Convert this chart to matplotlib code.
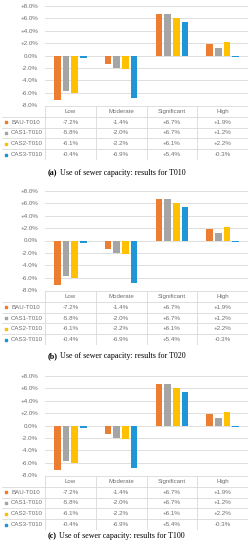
import numpy as np
import matplotlib.pyplot as plt
from matplotlib import font_manager

categories = ["Low", "Moderate", "Significant", "High"]
series = ["BAU-T010", "CAS1-T010", "CAS2-T010", "CAS3-T010"]
bau = [-7.2, -1.4, 6.7, 1.9]
cas1 = [-5.8, -2.0, 6.7, 1.2]
cas2 = [-6.1, -2.2, 6.1, 2.2]
cas3 = [-0.4, -6.9, 5.4, -0.3]
yticks = [-8, -6, -4, -2, 0, 2, 4, 6, 8]
captions = [("(a)", "Use of sewer capacity: results for T010"),
            ("(b)", "Use of sewer capacity: results for T020"),
            ("(c)", "Use of sewer capacity: results for T100")]

colors = ["#ED7D31", "#A5A5A5", "#FFC000", "#2196D6"]
values = [bau, cas1, cas2, cas3]

W, H = 249, 550
fig = plt.figure(figsize=(W / 100, H / 100), dpi=100)

# Calibri-like narrow font if it is there, else shrink the regular one
installed = {f.name for f in font_manager.fontManager.ttflist}
if "Liberation Sans Narrow" in installed:
    sans, fs = "Liberation Sans Narrow", 5.3
else:
    sans, fs = "Liberation Sans", 4.4
txt = "#6E6E6E"
grid = "#D9D9D9"


def px(x0, y0, x1, y1):
    # pixel box (top-left origin) -> figure fraction
    return [x0 / W, 1 - y1 / H, (x1 - x0) / W, (y1 - y0) / H]


def fmt(v):
    return f"{v:+.1f}%" if v != 0 else "0.0%"


offsets = [0, 185, 370]
cap_y = [173, 356, 536]
left, right = 45, 248
catw = (right - left) / 4
renderer = fig.canvas.get_renderer()

for k, oy in enumerate(offsets):
    ax = fig.add_axes(px(left, oy + 6, right, oy + 105))
    x = np.arange(len(categories))
    for i, (vals, c) in enumerate(zip(values, colors)):
        ax.bar(x + (i - 1.5) * 0.171, vals, width=0.13, color=c, zorder=3)
    ax.set_xlim(-0.5, 3.5)
    ax.set_ylim(-8, 8)
    ax.set_yticks(yticks)
    ax.set_yticklabels([fmt(v) for v in yticks], fontsize=fs, color=txt,
                       family=sans)
    ax.tick_params(axis="y", length=0, pad=5)
    ax.set_xticks([])
    ax.grid(axis="y", color=grid, linewidth=0.6, zorder=0)
    for s in ax.spines.values():
        s.set_visible(False)

    # data table under the plot
    tb = fig.add_axes(px(0, oy + 106, right, oy + 160))
    xl = -0.5 - left / catw
    tb.set_xlim(xl, 3.5)
    tb.set_ylim(5, 0)
    tb.axis("off")
    tb.plot([-0.5, 3.5], [0, 0], color=grid, lw=0.6)
    for r in range(1, 6):
        tb.plot([xl + 0.04, 3.5], [r, r], color=grid, lw=0.6)
    for j in range(5):
        tb.plot([j - 0.5, j - 0.5], [0, 5], color=grid, lw=0.6)
    for j, cat in enumerate(categories):
        tb.text(j, 0.5, cat, ha="center", va="center", fontsize=fs,
                color=txt, family=sans)
    for i, name in enumerate(series):
        tb.scatter([xl + 0.12], [i + 1.5], marker="s", s=3, color=colors[i])
        tb.text(xl + 0.22, i + 1.5, name, ha="left", va="center",
                fontsize=fs, color=txt, family=sans)
        for j in range(len(categories)):
            tb.text(j, i + 1.5, fmt(values[i][j]), ha="center", va="center",
                    fontsize=fs, color=txt, family=sans)

    a, b = captions[k]
    t1 = fig.text(48 / W, 1 - cap_y[k] / H, a, fontsize=5.8,
                  family="Liberation Serif", weight="bold", va="center",
                  ha="left")
    bb = t1.get_window_extent(renderer)
    fig.text((bb.x1 + 2) / W, 1 - cap_y[k] / H, b, fontsize=5.8,
             family="Liberation Serif", va="center", ha="left")

fig.savefig("out.png", dpi=100)
